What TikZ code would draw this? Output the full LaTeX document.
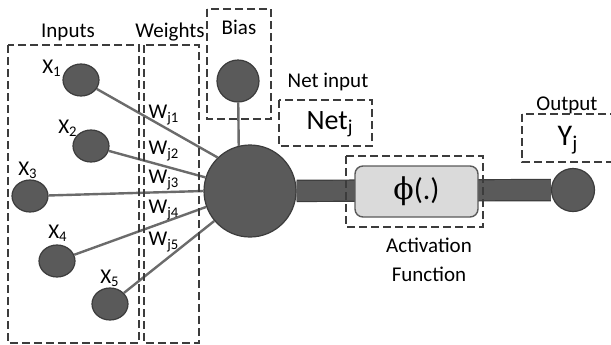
\documentclass[tikz,border=0pt]{standalone}
\usepackage{fontspec}
\setmainfont{Carlito}
\newfontfamily\greekfont{DejaVu Serif}
\usetikzlibrary{shapes.geometric,backgrounds}

\definecolor{neuron}{HTML}{5A5A5A}
\definecolor{rim}{HTML}{3C3C3C}
\definecolor{wire}{HTML}{6B6B6B}
\definecolor{boxfill}{HTML}{DADADA}

\begin{document}
\begin{tikzpicture}[x=0.5pt,y=-0.5pt,
    inp/.style={ellipse,fill=neuron,draw=rim,line width=0.6pt,minimum width=18pt,minimum height=16pt,inner sep=0pt},
    unit/.style={circle,fill=neuron,draw=rim,line width=0.6pt,inner sep=0pt},
    wire/.style={draw=wire,line width=1.2pt},
    dbox/.style={draw=rim,line width=0.75pt,dash pattern=on 4pt off 2pt},
    lbl/.style={font=\fontsize{10.5}{12.5}\selectfont,inner sep=0pt}]

    \useasboundingbox (0,0) rectangle (611,344);

    % inputs
    \node[inp] (x1) at (81,80)  {};
    \node[inp] (x2) at (91,146) {};
    \node[inp] (x3) at (30,196) {};
    \node[inp] (x4) at (57,261) {};
    \node[inp] (x5) at (110,304) {};

    \node[lbl] at (52,68)   {X\textsubscript{1}};
    \node[lbl] at (68,128)  {X\textsubscript{2}};
    \node[lbl] at (28,170)  {X\textsubscript{3}};
    \node[lbl] at (58,233)  {X\textsubscript{4}};
    \node[lbl] at (110,278) {X\textsubscript{5}};

    % summing unit, bias and output
    \node[unit,minimum size=21pt] (bias) at (238,81)  {};
    \node[unit,minimum size=46pt] (sum)  at (250,191) {};
    \node[unit,minimum size=21.5pt] (out) at (573,190) {};

    \node[draw=neuron,fill=boxfill,line width=0.7pt,rounded corners=4pt,
          minimum width=61.5pt,minimum height=25.5pt] (act) at (416.5,191.5)
          {\fontsize{15}{17}\selectfont{\greekfont ϕ}(.)};

    \begin{pgfonlayer}{background}
      \draw[draw=rim,line width=0.6pt,double=neuron,double distance=10pt] (sum) -- (out);
    \end{pgfonlayer}

    % weighted connections
    \draw[wire] (x1) -- (sum.134);
    \draw[wire] (x2) -- (sum.163);
    \draw[wire] (x3) -- (sum.180);
    \draw[wire] (x4) -- (sum.200);
    \draw[wire] (x5) -- (sum.220);
    \draw[wire] (bias) -- (sum.104);

    \node[lbl] at (164,115) {W\textsubscript{j1}};
    \node[lbl] at (164,151) {W\textsubscript{j2}};
    \node[lbl] at (164,180) {W\textsubscript{j3}};
    \node[lbl] at (164,210) {W\textsubscript{j4}};
    \node[lbl] at (164,242) {W\textsubscript{j5}};

    % dashed groups
    \draw[dbox] (8,45) rectangle (139,343);
    \draw[dbox] (144,45) rectangle (199,343);
    \draw[dbox] (207,9) rectangle (271,119);
    \draw[dbox] (279,100) rectangle (372,146);
    \draw[dbox] (346,156) rectangle (483,227);
    \draw[dbox] (522,114) rectangle (630,162);

    \node[lbl] at (68,32)   {Inputs};
    \node[lbl] at (170,32)  {Weights};
    \node[lbl] at (239,27)  {Bias};
    \node[lbl] at (328,82)  {Net input};
    \node[lbl] at (567,105) {Output};
    \node[lbl,align=center] at (429,260) {Activation\\[2pt]Function};

    \node[inner sep=0pt,font=\fontsize{14}{16}\selectfont] at (330,124) {Net\textsubscript{j}};
    \node[inner sep=0pt,font=\fontsize{15}{17}\selectfont] at (568,140) {Y\textsubscript{j}};
\end{tikzpicture}
\end{document}
